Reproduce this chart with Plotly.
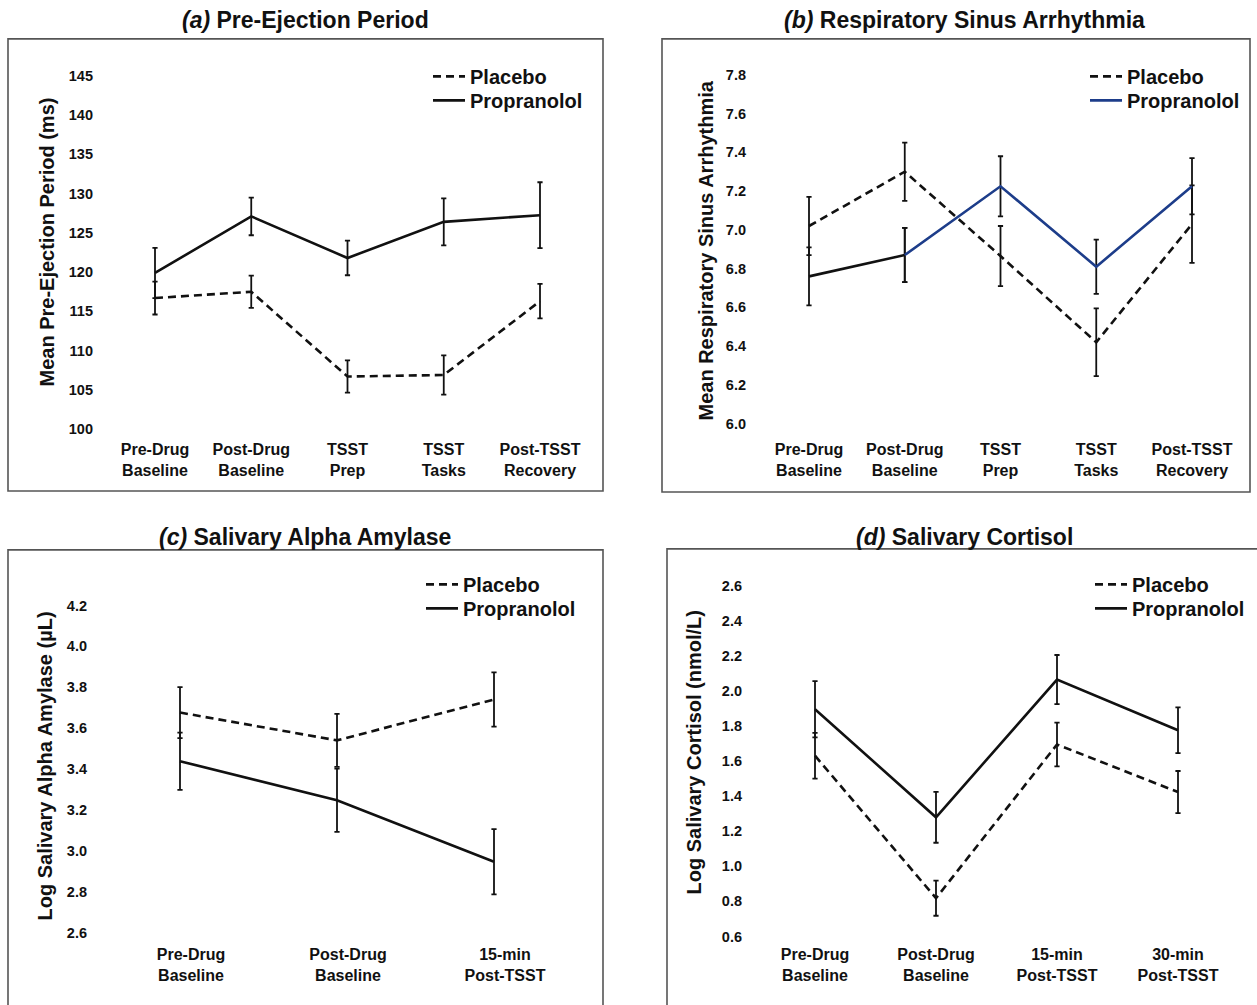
import plotly.graph_objects as go

# ---------------- data ----------------
cats_ab = ["Pre-Drug<br>Baseline", "Post-Drug<br>Baseline", "TSST<br>Prep", "TSST<br>Tasks", "Post-TSST<br>Recovery"]
cats_c = ["Pre-Drug<br>Baseline", "Post-Drug<br>Baseline", "15-min<br>Post-TSST"]
cats_d = ["Pre-Drug<br>Baseline", "Post-Drug<br>Baseline", "15-min<br>Post-TSST", "30-min<br>Post-TSST"]

pep_placebo = [116.7, 117.5, 106.7, 106.9, 116.3]
pep_placebo_err = [2.1, 2.05, 2.05, 2.5, 2.2]
pep_prop = [119.9, 127.1, 121.8, 126.4, 127.25]
pep_prop_err = [3.2, 2.4, 2.2, 3.0, 4.2]

rsa_placebo = [7.02, 7.30, 6.865, 6.42, 7.03]
rsa_placebo_err = [0.15, 0.15, 0.155, 0.175, 0.2]
rsa_prop = [6.76, 6.87, 7.225, 6.81, 7.225]
rsa_prop_err = [0.15, 0.14, 0.155, 0.14, 0.145]

saa_placebo = [3.676, 3.54, 3.74]
saa_placebo_err = [0.125, 0.13, 0.133]
saa_prop = [3.438, 3.247, 2.946]
saa_prop_err = [0.14, 0.155, 0.16]

cort_placebo = [1.63, 0.818, 1.694, 1.423]
cort_placebo_err = [0.13, 0.1, 0.125, 0.12]
cort_prop = [1.895, 1.279, 2.064, 1.775]
cort_prop_err = [0.16, 0.145, 0.14, 0.13]

titles = ["<b><i>(a)</i> Pre-Ejection Period</b>", "<b><i>(b)</i> Respiratory Sinus Arrhythmia</b>",
          "<b><i>(c)</i> Salivary Alpha Amylase</b>", "<b><i>(d)</i> Salivary Cortisol</b>"]
ytitles = ["<b>Mean Pre-Ejection Period (ms)</b>", "<b>Mean Respiratory Sinus Arrhythmia</b>",
           "<b>Log Salivary Alpha Amylase (µL)</b>", "<b>Log Salivary Cortisol (nmol/L)</b>"]

# ---------------- layout geometry (pixels) ----------------
W, H = 1257, 1005
FONT = "Liberation Sans, Arial, sans-serif"
BLUE = "#1d3d8a"


def fx(p):
    return p / W


def fy(p):
    return 1 - p / H


def lin(v1, p1, v2, p2, p):
    return v1 + (p - p1) * (v2 - v1) / (p2 - p1)


panels = [
    # x: (idx0 px, idxN px), y: (v_top, p_top, v_bot, p_bot), domain px (left,right,top,bottom)
    dict(n=5, xp=(155, 540), yv=(145, 76, 100, 430), dom=(94, 595, 62, 436),
         yt=dict(dtick=5, tickformat="d"), frame=(8, 603, 39, 492), title=(305, 20),
         ytl=(47, 243), leg=(432, 77), shift=0, stand=3),
    dict(n=5, xp=(809, 1192), yv=(7.8, 75, 6.0, 424.5), dom=(747, 1245, 62, 431),
         yt=dict(dtick=0.2, tickformat=".1f"), frame=(662, 1250, 39, 493), title=(965, 20),
         ytl=(706, 251), leg=(1089, 77), shift=0, stand=8),
    dict(n=3, xp=(180, 494), yv=(4.2, 606.7, 2.6, 934.3), dom=(88, 598, 575, 941),
         yt=dict(dtick=0.2, tickformat=".1f"), frame=(8, 603, 551, 1020), title=(305, 538),
         ytl=(45, 768), leg=(425, 586), shift=11, stand=4),
    dict(n=4, xp=(815, 1178), yv=(2.6, 586.7, 0.6, 938.3), dom=(743, 1250, 570, 944),
         yt=dict(dtick=0.2, tickformat=".1f"), frame=(667, 1270, 550, 1020), title=(964, 538),
         ytl=(694, 754), leg=(1094, 586), shift=0, stand=1),
]
cats = [cats_ab, cats_ab, cats_c, cats_d]
series = [
    (pep_placebo, pep_placebo_err, pep_prop, pep_prop_err),
    (rsa_placebo, rsa_placebo_err, rsa_prop, rsa_prop_err),
    (saa_placebo, saa_placebo_err, saa_prop, saa_prop_err),
    (cort_placebo, cort_placebo_err, cort_prop, cort_prop_err),
]

ROW_GAP = 24

fig = go.Figure()
layout = dict(width=W, height=H, margin=dict(l=0, r=0, t=0, b=0),
              paper_bgcolor="white", plot_bgcolor="white",
              font=dict(family=FONT, color="#111"), showlegend=True)
shapes, annots = [], []


def legend_box(px_x, px_center_y):
    return dict(x=fx(px_x - 4), y=fy(px_center_y - 20), xanchor="left", yanchor="top",
                bgcolor="rgba(0,0,0,0)", font=dict(size=20, weight="bold", family=FONT, color="#111"),
                tracegroupgap=0, itemwidth=32)


leg_idx = 0
for i, (pn, cat, ser) in enumerate(zip(panels, cats, series)):
    k = "" if i == 0 else str(i + 1)
    xa, ya = "x" + k, "y" + k
    lg1 = "legend" if leg_idx == 0 else "legend%d" % (leg_idx + 1)
    lg2 = "legend%d" % (leg_idx + 2)
    leg_idx += 2
    xs = list(range(len(cat)))
    plc, plc_e, prp, prp_e = ser
    err_style = dict(type="data", visible=True, color="#111", thickness=1.8, width=2.6)

    fig.add_trace(go.Scatter(x=xs, y=plc, mode="lines", name="Placebo", xaxis=xa, yaxis=ya, legend=lg1,
                             line=dict(color="#111", width=2.6, dash="8px,5px"),
                             error_y=dict(array=plc_e, **err_style)))
    if i == 1:
        fig.add_trace(go.Scatter(x=xs[:2], y=prp[:2], mode="lines", name="Propranolol", xaxis=xa, yaxis=ya,
                                 legend=lg2, showlegend=False, line=dict(color="#111", width=2.6),
                                 error_y=dict(array=prp_e[:2], **err_style)))
        fig.add_trace(go.Scatter(x=xs[1:], y=prp[1:], mode="lines", name="Propranolol", xaxis=xa, yaxis=ya,
                                 legend=lg2, line=dict(color=BLUE, width=2.6),
                                 error_y=dict(array=prp_e[1:], **err_style)))
    else:
        fig.add_trace(go.Scatter(x=xs, y=prp, mode="lines", name="Propranolol", xaxis=xa, yaxis=ya, legend=lg2,
                                 line=dict(color="#111", width=2.6),
                                 error_y=dict(array=prp_e, **err_style)))

    l, r, t, b = pn["dom"]
    n = pn["n"]
    xr = [lin(0, pn["xp"][0], n - 1, pn["xp"][1], l), lin(0, pn["xp"][0], n - 1, pn["xp"][1], r)]
    vt, pt, vb, pb = pn["yv"]
    yr = [lin(vb, pb, vt, pt, b), lin(vb, pb, vt, pt, t)]

    layout["xaxis" + k] = dict(domain=[fx(l), fx(r)], range=xr, anchor=ya, tickmode="array",
                               tickvals=xs, ticktext=cat, showgrid=False, zeroline=False, showline=False,
                               ticks="", ticklabelshift=pn["shift"], ticklabelstandoff=pn["stand"],
                               tickfont=dict(size=16, weight="bold", family=FONT, color="#111"))
    layout["yaxis" + k] = dict(domain=[fy(b), fy(t)], range=yr, anchor=xa, tick0=0, showgrid=False,
                               zeroline=False, showline=False, ticks="",
                               tickfont=dict(size=14.5, weight="bold", family=FONT, color="#111"),
                               **pn["yt"])
    layout[lg1] = legend_box(pn["leg"][0], pn["leg"][1])
    layout[lg2] = legend_box(pn["leg"][0], pn["leg"][1] + ROW_GAP)

    fl, fr, ft, fb = pn["frame"]
    shapes.append(dict(type="rect", xref="paper", yref="paper", x0=fx(fl), x1=fx(fr), y0=fy(fb), y1=fy(ft),
                       line=dict(color="#555", width=1.6), fillcolor="rgba(0,0,0,0)", layer="below"))
    annots.append(dict(text=titles[i], x=fx(pn["title"][0]), y=fy(pn["title"][1]), xref="paper", yref="paper",
                       xanchor="center", yanchor="middle", showarrow=False,
                       font=dict(size=23, family=FONT, color="#111")))
    annots.append(dict(text=ytitles[i], x=fx(pn["ytl"][0]), y=fy(pn["ytl"][1]), xref="paper", yref="paper",
                       xanchor="center", yanchor="middle", showarrow=False, textangle=-90,
                       font=dict(size=20, family=FONT, color="#111")))

layout["shapes"] = shapes
layout["annotations"] = annots
fig.update_layout(**layout)
fig.write_html("out.html", config={"displayModeBar": False},
               post_script="document.body.style.margin='0px';document.body.style.padding='0px';")
